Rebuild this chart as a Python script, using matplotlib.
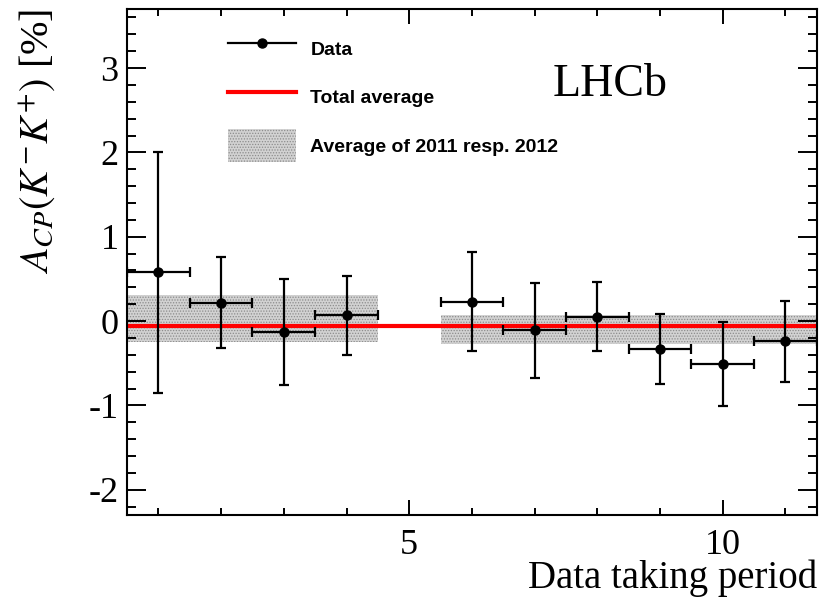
import numpy as np
import matplotlib.pyplot as plt
from matplotlib.lines import Line2D
from matplotlib.patches import Patch
from matplotlib.ticker import MultipleLocator, FixedLocator

plt.rcParams['font.family'] = 'Liberation Serif'
plt.rcParams['mathtext.fontset'] = 'stix'
plt.rcParams['axes.unicode_minus'] = False
plt.rcParams['hatch.color'] = '#8c8c8c'
plt.rcParams['hatch.linewidth'] = 0.6

# data taking periods and measured A_CP values [%]
period = [1, 2, 3, 4, 6, 7, 8, 9, 10, 11]
acp = [0.58, 0.22, -0.13, 0.07, 0.23, -0.11, 0.05, -0.33, -0.51, -0.24]
acp_err = [1.43, 0.54, 0.63, 0.47, 0.585, 0.56, 0.41, 0.41, 0.50, 0.48]
period_halfwidth = [0.5] * len(period)

total_avg = -0.06

# 2011 / 2012 average bands
band_x_lo = [0.5, 5.5]
band_x_hi = [4.5, 11.5]
band_lo = [-0.25, -0.275]
band_hi = [0.315, 0.07]

fig = plt.figure(figsize=(8.25, 5.99), dpi=100)
ax = fig.add_axes([0.154, 0.140, 0.836, 0.845])

band_style = dict(facecolor='#d2d2d2', hatch='......', edgecolor='#8c8c8c', linewidth=0)
for xl, xh, bl, bh in zip(band_x_lo, band_x_hi, band_lo, band_hi):
    ax.fill_between([xl, xh], bl, bh, zorder=1, **band_style)

ax.axhline(total_avg, color='#ff0000', lw=3, zorder=2)

ax.errorbar(period, acp, yerr=acp_err, xerr=period_halfwidth, fmt='o', color='k',
            ms=6.5, elinewidth=1.6, capsize=3.5, capthick=1.6, zorder=3)

ax.set_xlim(0.5, 11.5)
ax.set_ylim(-2.3, 3.7)

ax.xaxis.set_major_locator(FixedLocator([5, 10]))
ax.xaxis.set_minor_locator(MultipleLocator(1))
ax.yaxis.set_major_locator(MultipleLocator(1))
ax.yaxis.set_minor_locator(MultipleLocator(0.2))
ax.tick_params(which='both', direction='in', top=True, right=True, width=1.4,
               labelsize=26, pad=6)
ax.tick_params(axis='y', which='major', length=13.5)
ax.tick_params(axis='y', which='minor', length=6.8)
ax.tick_params(axis='x', which='major', length=10.5, pad=10)
ax.tick_params(axis='x', which='minor', length=5)
ax.set_xticklabels(['5', '10'])
for s in ax.spines.values():
    s.set_linewidth(1.5)

ax.set_xlabel('Data taking period', fontsize=28, loc='right')
ax.xaxis.set_label_coords(1.0, -0.088)
ax.set_ylabel(r'$A_{CP}(K^{-}K^{+})$ [%]', fontsize=29, loc='top')
ax.yaxis.set_label_coords(-0.10, 1.0)

ax.text(0.70, 0.85, 'LHCb', transform=ax.transAxes, fontsize=33,
        ha='center', va='center')

handles = [
    Line2D([], [], color='k', marker='o', ms=6.5, lw=1.6),
    Line2D([], [], color='#ff0000', lw=3),
    Patch(**band_style),
]
labels = ['Data', 'Total average', 'Average of 2011 resp. 2012']
ax.legend(handles, labels, loc='upper left', bbox_to_anchor=(0.146, 0.955),
          frameon=False, borderpad=0, borderaxespad=0, handlelength=3.5,
          handleheight=2.3, handletextpad=0.75, labelspacing=0.75,
          prop={'family': 'Liberation Sans', 'weight': 'bold', 'size': 14})

fig.savefig('out.png', dpi=100)
